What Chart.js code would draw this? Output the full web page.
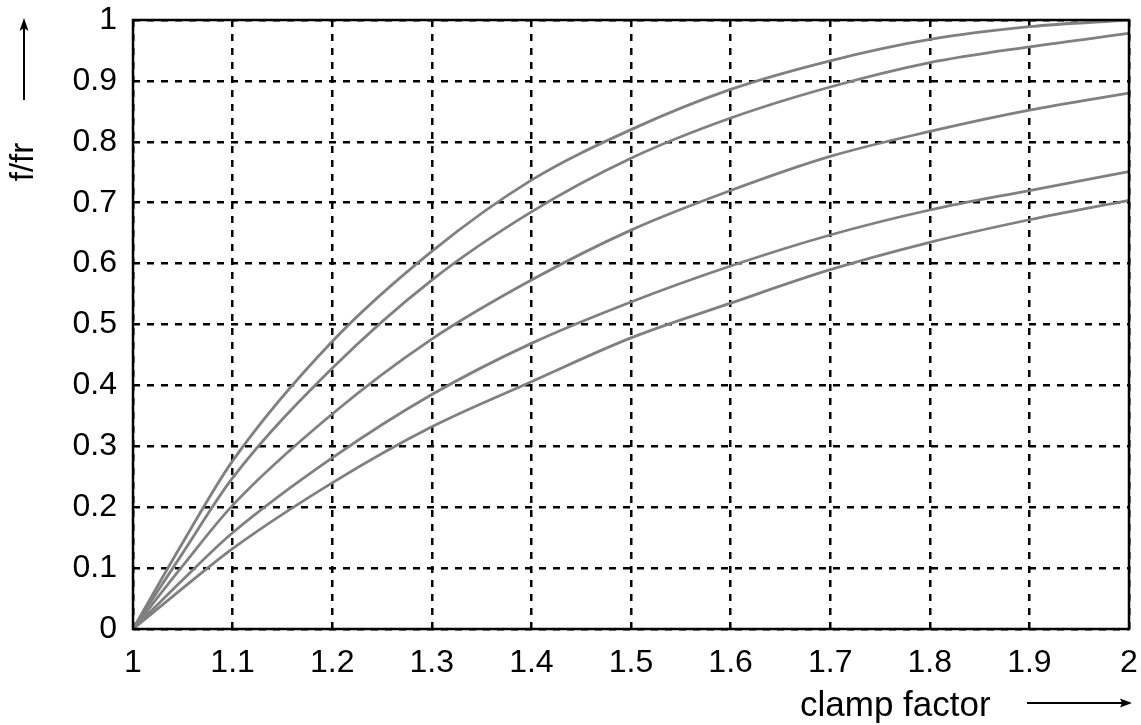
<!DOCTYPE html>
<html>
<head>
<meta charset="utf-8">
<script src="https://cdn.jsdelivr.net/npm/chart.js@4/dist/chart.umd.min.js"></script>
<style>
  html, body { margin: 0; padding: 0; background: #ffffff; }
  #chart { display: block; }
</style>
</head>
<body>
<canvas id="chart" width="1141" height="725"></canvas>
<script>
// Clamp factor samples (x axis)
const clampFactor = [1.0, 1.05, 1.1, 1.2, 1.3, 1.4, 1.5, 1.6, 1.7, 1.8, 1.9, 2.0];

// f/fr for each of the five curves, top to bottom
const curve1 = [0, 0.142, 0.276, 0.472, 0.620, 0.737, 0.820, 0.886, 0.933, 0.968, 0.989, 1.000];
const curve2 = [0, 0.125, 0.248, 0.428, 0.573, 0.685, 0.773, 0.839, 0.890, 0.930, 0.956, 0.978];
const curve3 = [0, 0.104, 0.203, 0.353, 0.476, 0.573, 0.655, 0.720, 0.776, 0.817, 0.852, 0.880];
const curve4 = [0, 0.081, 0.158, 0.281, 0.385, 0.469, 0.537, 0.596, 0.647, 0.688, 0.720, 0.751];
const curve5 = [0, 0.067, 0.132, 0.240, 0.332, 0.406, 0.478, 0.535, 0.590, 0.635, 0.672, 0.704];

// Tick labels
const xTickLabels = ['1', '1.1', '1.2', '1.3', '1.4', '1.5', '1.6', '1.7', '1.8', '1.9', '2'];
const yTickLabels = ['0', '0.1', '0.2', '0.3', '0.4', '0.5', '0.6', '0.7', '0.8', '0.9', '1'];

const xTitle = 'clamp factor';
const yTitle = 'f/fr';

const FONT = '"Liberation Sans", Arial, Helvetica, sans-serif';

function toPoints(ys) {
  return clampFactor.map((x, i) => ({ x: x, y: ys[i] }));
}

const seriesList = [curve1, curve2, curve3, curve4, curve5];

// Frame, axis titles and direction arrows
const decorations = {
  id: 'decorations',
  afterDraw(chart) {
    const { ctx, chartArea } = chart;
    ctx.save();
    // solid frame around the plot area
    ctx.strokeStyle = '#000';
    ctx.lineWidth = 2.5;
    ctx.setLineDash([]);
    ctx.strokeRect(chartArea.left, chartArea.top,
                   chartArea.right - chartArea.left, chartArea.bottom - chartArea.top);

    ctx.fillStyle = '#000';
    // x axis title
    ctx.font = '35px ' + FONT;
    ctx.textAlign = 'left';
    ctx.textBaseline = 'alphabetic';
    ctx.fillText(xTitle, 800, 716);

    // arrow to the right of the x title
    ctx.lineWidth = 2;
    ctx.beginPath();
    ctx.moveTo(1027, 703);
    ctx.lineTo(1124, 703);
    ctx.stroke();
    ctx.beginPath();
    ctx.moveTo(1132, 703);
    ctx.lineTo(1120, 698.5);
    ctx.lineTo(1122, 703);
    ctx.lineTo(1120, 707.5);
    ctx.closePath();
    ctx.fill();

    // y axis title, rotated
    ctx.save();
    ctx.translate(24, 162);
    ctx.rotate(-Math.PI / 2);
    ctx.font = '33px ' + FONT;
    ctx.textAlign = 'center';
    ctx.textBaseline = 'middle';
    ctx.fillText(yTitle, 0, 0);
    ctx.restore();

    // arrow above the y title
    ctx.beginPath();
    ctx.moveTo(24, 100);
    ctx.lineTo(24, 27);
    ctx.stroke();
    ctx.beginPath();
    ctx.moveTo(24, 18);
    ctx.lineTo(19.5, 31);
    ctx.lineTo(24, 28);
    ctx.lineTo(28.5, 31);
    ctx.closePath();
    ctx.fill();
    ctx.restore();
  }
};

new Chart(document.getElementById('chart'), {
  type: 'line',
  data: {
    datasets: seriesList.map(s => ({
      data: toPoints(s),
      borderColor: '#808080',
      borderWidth: 2.8,
      pointRadius: 0,
      fill: false,
      cubicInterpolationMode: 'monotone'
    }))
  },
  options: {
    responsive: false,
    animation: false,
    layout: { padding: { top: 20, right: 12, left: 0, bottom: 0 } },
    plugins: {
      legend: { display: false },
      tooltip: { enabled: false }
    },
    scales: {
      x: {
        type: 'linear',
        min: 1,
        max: 2,
        ticks: {
          stepSize: 0.1,
          padding: 15,
          color: '#000',
          font: { family: FONT, size: 32 },
          maxRotation: 0,
          autoSkip: false,
          callback: (v, i) => xTickLabels[i]
        },
        grid: {
          color: '#000',
          lineWidth: 2.5,
          drawTicks: false
        },
        border: { display: false, dash: [7, 7] },
        afterFit(scale) {
          scale.height = 725 - 629;
          scale.paddingLeft = 0;
          scale.paddingRight = 0;
        }
      },
      y: {
        type: 'linear',
        min: 0,
        max: 1,
        ticks: {
          stepSize: 0.1,
          padding: 16,
          color: '#000',
          font: { family: FONT, size: 32 },
          autoSkip: false,
          callback: (v, i) => yTickLabels[i]
        },
        grid: {
          color: '#000',
          lineWidth: 2.5,
          drawTicks: false
        },
        border: { display: false, dash: [7, 7] },
        afterFit(scale) {
          scale.width = 133;
          scale.paddingTop = 0;
          scale.paddingBottom = 0;
        }
      }
    }
  },
  plugins: [decorations]
});
</script>
</body>
</html>
